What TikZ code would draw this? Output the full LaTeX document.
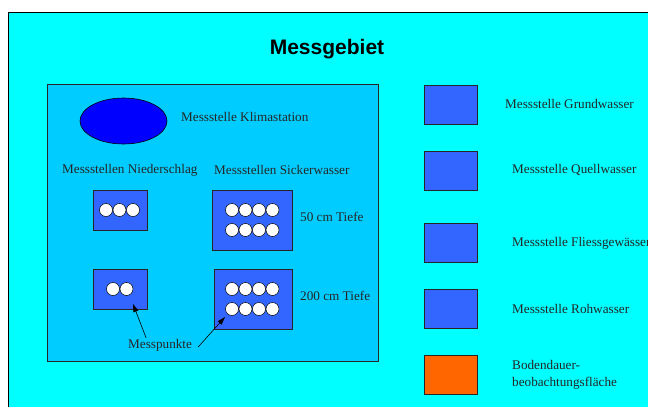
\documentclass[tikz,border=0pt]{standalone}
\usepackage{fontspec}
\setmainfont{Liberation Serif}
\newfontfamily\titlefont{Liberation Sans}
\usetikzlibrary{arrows.meta,shapes.geometric}
\definecolor{bgcyan}{RGB}{0,255,255}
\definecolor{areablue}{RGB}{0,204,255}
\definecolor{boxblue}{RGB}{51,102,255}
\definecolor{ellblue}{RGB}{0,0,255}
\definecolor{boxorange}{RGB}{255,102,0}
\begin{document}
\begin{tikzpicture}[x=1pt,y=-1pt,
  lbl/.style={inner sep=0pt, anchor=west, font=\fontsize{13.2}{15}\selectfont, text=black!85},
  mbox/.style={draw=black!85, line width=0.6pt, fill=boxblue, inner sep=0pt},
  legbox/.style={mbox, minimum width=53pt, minimum height=39pt},
  mpt/.style={circle, draw=black, line width=0.5pt, fill=white, minimum size=13pt, inner sep=0pt},
  pointer/.style={-{Triangle[length=8pt,width=5pt]}, line width=0.6pt, black}]
\useasboundingbox (0,0) rectangle (648,407);
\fill[white] (0,0) rectangle (648,407);
\fill[bgcyan] (8,12) rectangle (648,407);
\draw[black, line width=0.8pt] (8,407) -- (8,12) -- (648,12);
\node[font=\titlefont\bfseries\fontsize{21}{24}\selectfont] (title) at (327,49) {Messgebiet};
% inner measuring area
\node[draw=black!85, line width=0.6pt, fill=areablue, minimum width=331pt, minimum height=277pt, inner sep=0pt] (area) at (212.5,222.5) {};
\node[ellipse, draw=black, line width=0.6pt, fill=ellblue, minimum width=87pt, minimum height=46pt, inner sep=0pt] (klima) at (123.5,121) {};
\node[lbl] (klimatxt) at (181,117) {Messstelle Klimastation};
\node[lbl] (nied) at (62,170) {Messstellen Niederschlag};
\node[lbl] (sick) at (214,170) {Messstellen Sickerwasser};
% Niederschlag boxes
\node[mbox, minimum width=54pt, minimum height=40pt] (n1) at (120,210) {};
\node[mbox, minimum width=54pt, minimum height=40pt] (n2) at (120,289) {};
\foreach \x [count=\i] in {106,119.5,133} \node[mpt] (n1p\i) at (\x,210) {};
\foreach \x [count=\i] in {113,126.5} \node[mpt] (n2p\i) at (\x,289) {};
% Sickerwasser boxes
\node[mbox, minimum width=80pt, minimum height=60pt] (s1) at (252,220) {};
\node[mbox, minimum width=78pt, minimum height=60pt] (s2) at (253,299) {};
\foreach \y [count=\j] in {210,230}
  \foreach \x [count=\i] in {232,245.5,259,272.5} \node[mpt] (s1p\j\i) at (\x,\y) {};
\foreach \y [count=\j] in {289,309}
  \foreach \x [count=\i] in {232,245.5,259,272.5} \node[mpt] (s2p\j\i) at (\x,\y) {};
\node[lbl] (t50) at (300,217) {50 cm Tiefe};
\node[lbl] (t200) at (300,296) {200 cm Tiefe};
\node[lbl] (mp) at (128,345) {Messpunkte};
\coordinate (tip1) at (133,304);
\coordinate (tip2) at (225,317);
\draw[pointer] ([xshift=-14pt,yshift=1pt]mp.north) -- (tip1);
\draw[pointer] ([xshift=6pt,yshift=-2pt]mp.east) -- (tip2);
% legend
\node[legbox] (lg1) at (450.5,104.5) {};
\node[legbox] (lg2) at (450.5,170.5) {};
\node[legbox] (lg3) at (450.5,243) {};
\node[legbox] (lg4) at (450.5,309) {};
\node[legbox, fill=boxorange] (lg5) at (450.5,374.5) {};
\node[lbl] (lt1) at (505,104) {Messstelle Grundwasser};
\node[lbl] (lt2) at (512,170) {Messstelle Quellwasser};
\node[lbl] (lt3) at (512,243) {Messstelle Fliessgewässer};
\node[lbl] (lt4) at (512,309) {Messstelle Rohwasser};
\node[lbl, align=left, font=\fontsize{13.2}{16.5}\selectfont] (lt5) at (512,375) {Bodendauer-\\beobachtungsfläche};
\end{tikzpicture}
\end{document}
